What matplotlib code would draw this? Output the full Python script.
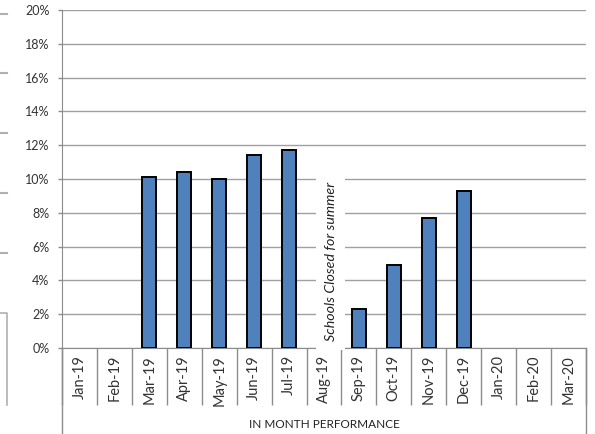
import numpy as np
import matplotlib
matplotlib.use("Agg")
import matplotlib.pyplot as plt
from matplotlib.lines import Line2D

W, H = 595, 434

MONTHS = ["Jan-19", "Feb-19", "Mar-19", "Apr-19", "May-19", "Jun-19", "Jul-19",
          "Aug-19", "Sep-19", "Oct-19", "Nov-19", "Dec-19", "Jan-20", "Feb-20", "Mar-20"]
# in-month performance (%), empty months left as NaN
PERFORMANCE = [np.nan, np.nan, 10.1, 10.4, 10.0, 11.4, 11.7,
               np.nan, 2.3, 4.9, 7.7, 9.3, np.nan, np.nan, np.nan]
Y_TICKS = [0, 2, 4, 6, 8, 10, 12, 14, 16, 18, 20]

plt.rcParams["font.family"] = ["Lato", "DejaVu Sans"]
GRID = "#a0a0a0"
AXIS = "#8c8c8c"


def fx(px):
    return px / W


def fy(py):
    return 1 - py / H


fig = plt.figure(figsize=(W / 100, H / 100), dpi=100, facecolor="white")
left, right, top, bottom = 62, 586, 10, 348
ax = fig.add_axes([fx(left), fy(bottom), fx(right - left), (bottom - top) / H])

x = np.arange(len(MONTHS))
vals = np.array(PERFORMANCE, dtype=float)
has = ~np.isnan(vals)
ax.bar(x[has], vals[has], width=0.4, color="#4f81bd",
       edgecolor="black", linewidth=1.4, zorder=3)

ax.set_xlim(-0.5, len(MONTHS) - 0.5)
ax.set_ylim(0, 20)
ax.set_yticks(Y_TICKS)
ax.set_yticklabels([f"{t}%" for t in Y_TICKS], fontsize=9, color="#333333")
ax.yaxis.grid(True, color=GRID, linewidth=1.0, zorder=0)
ax.set_axisbelow(True)

ax.set_xticks(x)
ax.set_xticklabels(MONTHS, rotation=90, fontsize=10.5, color="#333333")
ax.set_xticks(np.arange(-0.5, len(MONTHS)), minor=True)
ax.tick_params(axis="x", which="major", length=0, pad=5)
ax.tick_params(axis="x", which="minor", length=41, color=AXIS, width=1.0)
ax.tick_params(axis="y", length=3, color=AXIS, width=1.0, pad=6)

for side in ["top", "right"]:
    ax.spines[side].set_visible(False)
ax.spines["left"].set_color(AXIS)
ax.spines["bottom"].set_color(AXIS)

# summer closure note over the August column
ax.text(7.19, 5.1, "Schools Closed for summer", rotation=90, style="italic",
        fontsize=10.3, ha="center", va="center", color="#222222", zorder=4,
        bbox=dict(facecolor="white", edgecolor="none", boxstyle="square,pad=0.6"))

# outer frame of the category group
for px in (left, right):
    fig.add_artist(Line2D([fx(px), fx(px)], [fy(bottom), 0], color=AXIS, linewidth=1.0))
fig.text(fx(324), fy(425), "IN MONTH PERFORMANCE", ha="center", va="center",
         fontsize=8.5, color="#222222")

# edge of the neighbouring chart on the sheet
for py in (14, 73, 133, 193, 253):
    fig.add_artist(Line2D([0, fx(7)], [fy(py), fy(py)], color="#b0b0b0", linewidth=1.5))
fig.add_artist(Line2D([0, fx(7), fx(7)], [fy(313), fy(313), fy(405)],
                      color="#b0b0b0", linewidth=1.2))

fig.savefig("out.png", dpi=100, facecolor="white")
